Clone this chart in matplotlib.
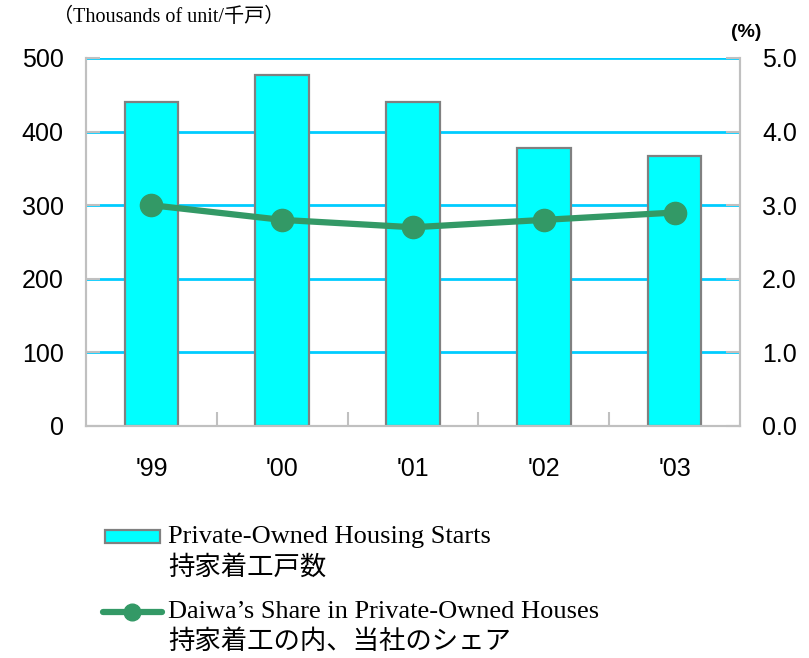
import matplotlib
matplotlib.use("Agg")
import matplotlib.pyplot as plt
from matplotlib.patches import Rectangle
from matplotlib.lines import Line2D

# data
years = ["'99", "'00", "'01", "'02", "'03"]
housing_starts = [440, 477, 440, 378, 367]   # thousands of units
daiwa_share = [3.0, 2.8, 2.7, 2.8, 2.9]      # %

cyan = "#00FFFF"
grid_blue = "#00CCFF"
green = "#339966"
gray = "#808080"
spine_gray = "#C0C0C0"

num_font = ["Liberation Sans Narrow", "Liberation Sans", "DejaVu Sans"]
txt_font = ["Liberation Serif", "Noto Sans CJK JP", "DejaVu Sans"]

fig = plt.figure(figsize=(8.09, 6.58), dpi=100)
ax = fig.add_axes([0.1063, 0.3526, 0.8084, 0.5593])

x = list(range(len(years)))

for v in [100, 200, 300, 400, 500]:
    ax.axhline(v, color=grid_blue, linewidth=2, zorder=0)

ax.bar(x, housing_starts, width=0.41, color=cyan, edgecolor=gray, linewidth=1.6, zorder=2)
ax.set_xlim(-0.5, 4.5)
ax.set_ylim(0, 500)
ax.set_yticks([0, 100, 200, 300, 400, 500])
ax.set_yticklabels(["0", "100", "200", "300", "400", "500"], family=num_font, fontsize=18)
ax.set_xticks(x)
ax.set_xticklabels(years, family=num_font, fontsize=18)
ax.set_xticks([0.5, 1.5, 2.5, 3.5], minor=True)
ax.tick_params(axis="x", which="major", length=0, pad=22)
ax.tick_params(axis="x", which="minor", direction="in", length=10, color=spine_gray, width=1.5)
ax.tick_params(axis="y", direction="in", length=10, color=spine_gray, width=1.5, pad=16)

for s in ["left", "right", "bottom"]:
    ax.spines[s].set_color(spine_gray)
    ax.spines[s].set_linewidth(1.5)
ax.spines["top"].set_visible(False)

ax2 = ax.twinx()
ax2.plot(x, daiwa_share, color=green, linewidth=4.5, marker="o", markersize=16, zorder=3)
ax2.set_ylim(0, 5.0)
ax2.set_yticks([0, 1, 2, 3, 4, 5])
ax2.set_yticklabels(["0.0", "1.0", "2.0", "3.0", "4.0", "5.0"], family=num_font, fontsize=18)
ax2.tick_params(axis="y", direction="in", length=10, color=spine_gray, width=1.5, pad=16)
for s in ["left", "right", "bottom"]:
    ax2.spines[s].set_color(spine_gray)
    ax2.spines[s].set_linewidth(1.5)
ax2.spines["top"].set_visible(False)

fig.text(0.066, 0.974, "（Thousands of unit/千戸）", family=txt_font, fontsize=14.5, va="center", ha="left")
fig.text(0.903, 0.950, "(%)", family=num_font, fontsize=14, va="center", ha="left", weight="bold")

# legend
fig.patches.append(Rectangle((105 / 809, 1 - 543 / 658), 55 / 809, 13 / 658,
                             transform=fig.transFigure, facecolor=cyan, edgecolor=gray, linewidth=1.6))
fig.text(168 / 809, 1 - 537 / 658, "Private-Owned Housing Starts", family=txt_font, fontsize=19, va="center")
fig.text(168 / 809, 1 - 567 / 658, "持家着工戸数", family=txt_font, fontsize=19, va="center")
fig.lines.append(Line2D([103 / 809, 162 / 809], [1 - 612 / 658, 1 - 612 / 658], transform=fig.transFigure,
                        color=green, linewidth=4.5, solid_capstyle="round"))
fig.lines.append(Line2D([132 / 809], [1 - 612 / 658], transform=fig.transFigure,
                        color=green, marker="o", markersize=12))
fig.text(168 / 809, 1 - 612 / 658, "Daiwa’s Share in Private-Owned Houses", family=txt_font, fontsize=19, va="center")
fig.text(168 / 809, 1 - 642 / 658, "持家着工の内、当社のシェア", family=txt_font, fontsize=19, va="center")

fig.savefig("out.png", dpi=100)
